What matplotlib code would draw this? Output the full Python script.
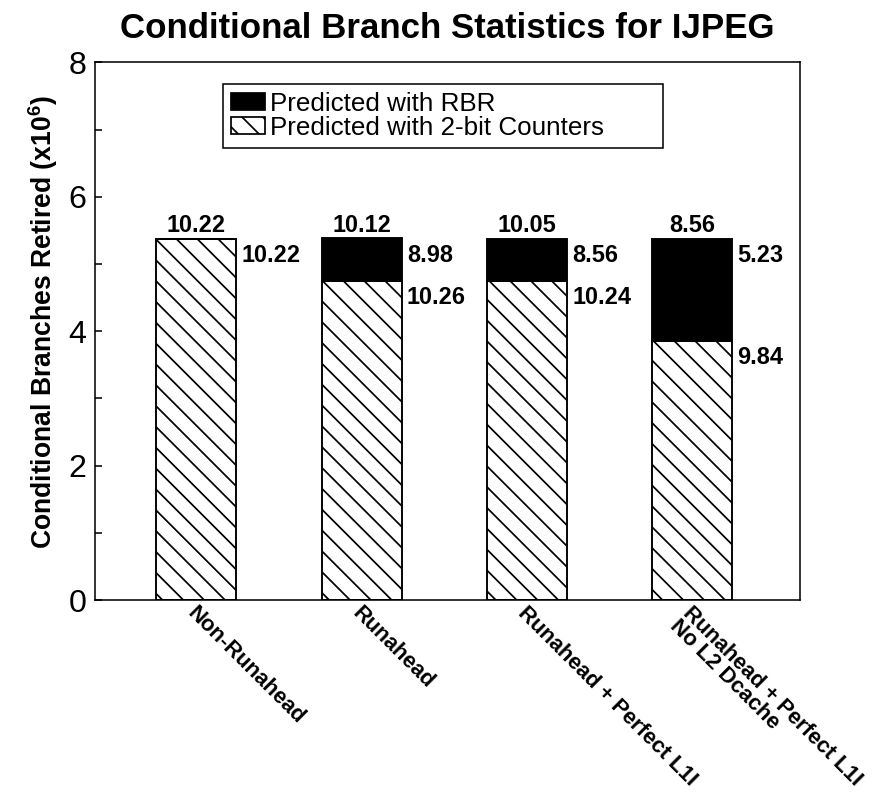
import matplotlib
matplotlib.use("Agg")
import matplotlib.pyplot as plt
from matplotlib.patches import Patch
from matplotlib.transforms import ScaledTranslation

plt.rcParams['font.family'] = ['Liberation Sans', 'DejaVu Sans']
plt.rcParams['mathtext.fontset'] = 'custom'
plt.rcParams['mathtext.rm'] = 'Liberation Sans'
plt.rcParams['mathtext.bf'] = 'Liberation Sans:bold'
plt.rcParams['hatch.linewidth'] = 1.0

# data
categories = ['Non-Runahead', 'Runahead', 'Runahead + Perfect L1I',
              'Runahead + Perfect L1I\nNo L2 Dcache']
counter_vals = [5.37, 4.75, 4.75, 3.86]   # predicted with 2-bit counters
rbr_vals = [0.0, 0.63, 0.62, 1.51]        # predicted with RBR
top_labels = ['10.22', '10.12', '10.05', '8.56']
rbr_labels = [None, '8.98', '8.56', '5.23']
counter_labels = ['10.22', '10.26', '10.24', '9.84']

DPI = 125
fig = plt.figure(figsize=(895 / DPI, 807 / DPI), dpi=DPI)
ax = fig.add_axes([95 / 895, 207 / 807, 705 / 895, 537.7 / 807])

x = list(range(len(categories)))
w = 0.484
ax.bar(x, counter_vals, w, color='white', edgecolor='black', hatch='\\\\',
       linewidth=1.1, label='Predicted with 2-bit Counters')
ax.bar(x, rbr_vals, w, bottom=counter_vals, color='black', edgecolor='black',
       linewidth=1.1, label='Predicted with RBR')

lab_font = dict(fontsize=13.5, fontweight='bold')
for i in x:
    total = counter_vals[i] + rbr_vals[i]
    ax.annotate(top_labels[i], (i, total), xytext=(0, 1), textcoords='offset points',
                ha='center', va='bottom', **lab_font)
    ax.annotate(counter_labels[i], (i + w / 2, counter_vals[i]), xytext=(3, -3),
                textcoords='offset points', ha='left', va='top', **lab_font)
    if rbr_labels[i]:
        ax.annotate(rbr_labels[i], (i + w / 2, total), xytext=(3, -3),
                    textcoords='offset points', ha='left', va='top', **lab_font)

ax.set_xlim(-0.614, 3.653)
ax.set_ylim(0, 8)
ax.set_yticks([0, 2, 4, 6, 8])
ax.set_yticks([1, 3, 5, 7], minor=True)
ax.tick_params(axis='y', which='both', direction='in', length=4, width=0.9,
               labelsize=18.5, pad=5)
ax.tick_params(axis='x', length=0, pad=1.5)
ax.set_xticks(x)
ax.set_xticklabels(categories, rotation=-45, ha='left', va='top',
                   rotation_mode='anchor', fontsize=12.7, fontweight='bold',
                   linespacing=0.85)
shift = ScaledTranslation(1 / DPI, 0, fig.dpi_scale_trans)
for t in ax.get_xticklabels():
    t.set_transform(t.get_transform() + shift)

for s in ax.spines.values():
    s.set_linewidth(0.9)

ax.set_ylabel(r'Conditional Branches Retired (x10$^{\mathbf{6}}$)',
              fontsize=15.3, fontweight='bold')
ax.yaxis.set_label_coords(-0.05, 0.517)

fig.text(0.5, 1 - 28 / 807, 'Conditional Branch Statistics for IJPEG',
         ha='center', va='center', fontsize=20.1, fontweight='bold')

handles = [Patch(facecolor='black', edgecolor='black'),
           Patch(facecolor='white', edgecolor='black', hatch='\\\\')]
ax.legend(handles, ['Predicted with RBR', 'Predicted with 2-bit Counters'],
          loc='upper left', bbox_to_anchor=(0.1816, 0.9597, 0.624, 0.0),
          mode='expand', fontsize=15, frameon=True, fancybox=False,
          edgecolor='black', framealpha=1, borderpad=0.3, labelspacing=0.0,
          handlelength=1.3, handleheight=0.65, handletextpad=0.2,
          borderaxespad=0).get_frame().set_linewidth(0.9)

fig.savefig('out.png', dpi=DPI)
